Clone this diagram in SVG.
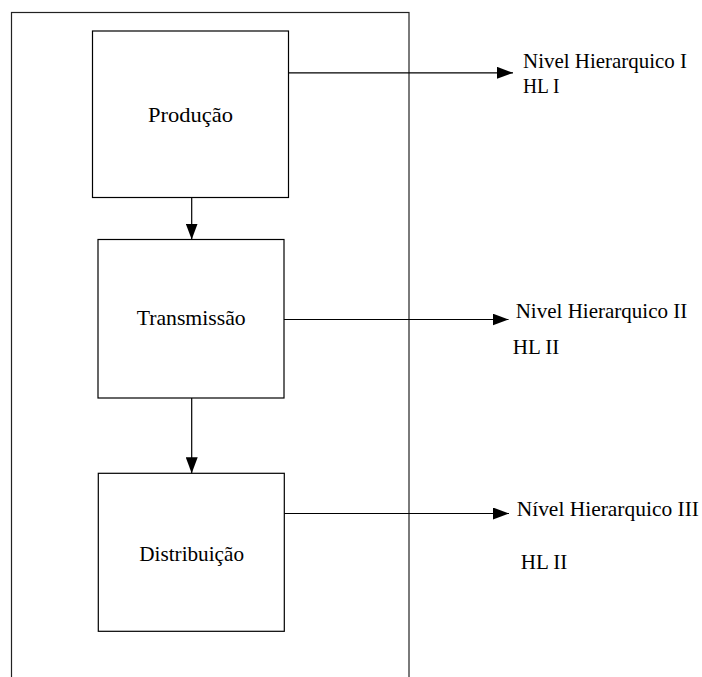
<svg xmlns="http://www.w3.org/2000/svg" width="702" height="677" viewBox="0 0 702 677">
  <style>
    .box { fill: #fff; stroke: #000; stroke-width: 1.2; }
    .frame { fill: none; stroke: #222; stroke-width: 1.2; }
    text { font-family: 'Liberation Serif', 'DejaVu Serif', serif; fill: #000; }
    .lbl { font-size: 21.5px; }
    .side { font-size: 21px; }
    .conn { stroke: #000; stroke-width: 1.2; fill: none; marker-end: url(#arrow); }
  </style>
  <defs>
    <marker id="arrow" markerUnits="userSpaceOnUse" markerWidth="16" markerHeight="12" refX="16" refY="6" orient="auto">
      <path d="M0,0 L16,6 L0,12 z" fill="#000"/>
    </marker>
  </defs>
  <rect id="frame" class="frame" x="11.5" y="12.5" width="397.5" height="700"/>
  <g id="producao">
    <rect class="box" x="92.5" y="31" width="196" height="166.5"/>
    <text class="lbl" x="148" y="121.7" textLength="85" lengthAdjust="spacingAndGlyphs">Produção</text>
  </g>
  <g id="transmissao">
    <rect class="box" x="98" y="239.5" width="186" height="158.5"/>
    <text class="lbl" x="136.7" y="325" textLength="109" lengthAdjust="spacingAndGlyphs">Transmissão</text>
  </g>
  <g id="distribuicao">
    <rect class="box" x="98.3" y="473.3" width="186" height="158"/>
    <text class="lbl" x="139.3" y="561" textLength="104.7" lengthAdjust="spacingAndGlyphs">Distribuição</text>
  </g>
  <g id="nivel1">
    <text class="side" x="523" y="68.3" textLength="164" lengthAdjust="spacingAndGlyphs">Nivel Hierarquico I</text>
    <text class="side" x="523" y="93.3" textLength="36.5" lengthAdjust="spacingAndGlyphs">HL I</text>
  </g>
  <g id="nivel2">
    <text class="side" x="515.7" y="318.3" textLength="171.6" lengthAdjust="spacingAndGlyphs">Nivel Hierarquico II</text>
    <text class="side" x="512.7" y="354.3" textLength="46.6" lengthAdjust="spacingAndGlyphs">HL II</text>
  </g>
  <g id="nivel3">
    <text class="side" x="516.7" y="516" textLength="182.3" lengthAdjust="spacingAndGlyphs">Nível Hierarquico III</text>
    <text class="side" x="520.7" y="569.3" textLength="46.6" lengthAdjust="spacingAndGlyphs">HL II</text>
  </g>
  <g id="connectors">
    <line class="conn" x1="191.7" y1="197.5" x2="191.7" y2="239.5"/>
    <line class="conn" x1="191.7" y1="398" x2="191.7" y2="473.3"/>
    <line class="conn" x1="288.5" y1="72.8" x2="513" y2="72.8"/>
    <line class="conn" x1="284" y1="319.5" x2="508.5" y2="319.5"/>
    <line class="conn" x1="284.3" y1="513.5" x2="509" y2="513.5"/>
  </g>
</svg>
